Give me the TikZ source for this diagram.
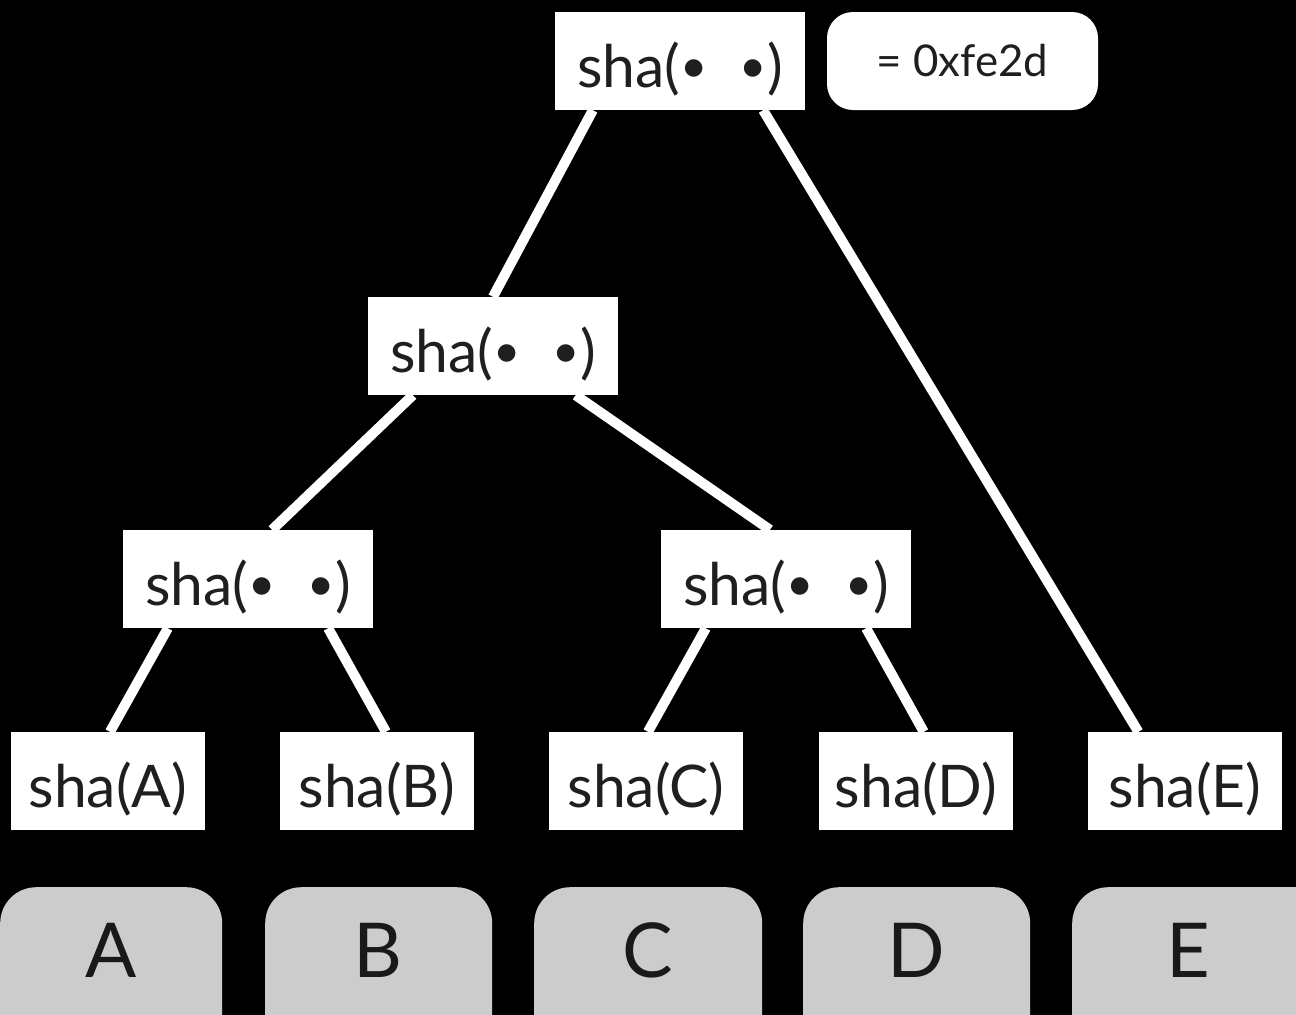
\documentclass[tikz,border=0pt]{standalone}
\usepackage{fontspec}
\setmainfont{Lato}
\usetikzlibrary{calc}
\begin{document}
\begin{tikzpicture}[x=1bp,y=-1bp,
  boxtext/.style={fill=white, inner sep=0pt, minimum height=98bp, text height=56bp,
    text depth=4bp, text=black!88, font=\fontsize{59}{59}\selectfont},
  hashbox/.style={boxtext, minimum width=250bp},
  leafbox/.style={boxtext, minimum width=194bp},
  rootbox/.style={fill=white, rounded corners=26bp, inner sep=0pt, minimum width=271bp,
    minimum height=98bp, text=black!88, font=\fontsize{44}{44}\selectfont},
  datablock/.style={fill=black!20, rounded corners=36bp, inner sep=0pt, minimum height=175bp},
  blocklabel/.style={text=black!90, font=\fontsize{76}{76}\selectfont},
  link/.style={draw=white, line width=10bp}]
  % canvas
  \path[use as bounding box] (0,0) rectangle (1296,1015);
  \fill[black] (0,0) rectangle (1296,1015);
  \clip (0,0) rectangle (1296,1015);

  \newcommand{\hb}{\raisebox{0.08em}{\scalebox{0.8}{\textbullet}}}
  \newcommand{\pairhash}{sha(\hb\hspace{0.55em}\hb)}

  % hash nodes
  \node[hashbox] (root) at (680,61) {\pairhash};
  \node[rootbox] (val) at (962.5,61) {= 0xfe2d};
  \node[hashbox] (ab) at (493,346) {\pairhash};
  \node[hashbox] (l) at (248,579) {\pairhash};
  \node[hashbox] (r) at (786,579) {\pairhash};
  \node[leafbox] (ha) at (108,781) {sha(A)};
  \node[leafbox] (hb) at (377,781) {sha(B)};
  \node[leafbox] (hc) at (646,781) {sha(C)};
  \node[leafbox] (hd) at (916,781) {sha(D)};
  \node[leafbox] (he) at (1185,781) {sha(E)};

  % data blocks (run past the lower edge)
  \node[datablock, minimum width=222bp, anchor=north west] (da) at (0,887) {};
  \node[datablock, minimum width=227bp, anchor=north west] (db) at (265,887) {};
  \node[datablock, minimum width=228bp, anchor=north west] (dc) at (534,887) {};
  \node[datablock, minimum width=227bp, anchor=north west] (dd) at (803,887) {};
  \node[datablock, minimum width=260bp, anchor=north west] (de) at (1072,887) {};
  \node[blocklabel] (ta) at (111,950) {A};
  \node[blocklabel] (tb) at (378,950) {B};
  \node[blocklabel] (tc) at (648,950) {C};
  \node[blocklabel] (td) at (916,950) {D};
  \node[blocklabel] (te) at (1188,950) {E};

  % tree links
  \draw[link] ($(root.south west)!0.152!(root.south east)$) -- ($(ab.north west)!0.5!(ab.north east)$);
  \draw[link] ($(root.south west)!0.832!(root.south east)$) -- ($(he.north west)!0.26!(he.north east)$);
  \draw[link] ($(ab.south west)!0.18!(ab.south east)$) -- ($(l.north west)!0.596!(l.north east)$);
  \draw[link] ($(ab.south west)!0.83!(ab.south east)$) -- ($(r.north west)!0.436!(r.north east)$);
  \draw[link] ($(l.south west)!0.18!(l.south east)$) -- ($(ha.north west)!0.51!(ha.north east)$);
  \draw[link] ($(l.south west)!0.82!(l.south east)$) -- ($(hb.north west)!0.546!(hb.north east)$);
  \draw[link] ($(r.south west)!0.18!(r.south east)$) -- ($(hc.north west)!0.51!(hc.north east)$);
  \draw[link] ($(r.south west)!0.82!(r.south east)$) -- ($(hd.north west)!0.54!(hd.north east)$);
\end{tikzpicture}
\end{document}
